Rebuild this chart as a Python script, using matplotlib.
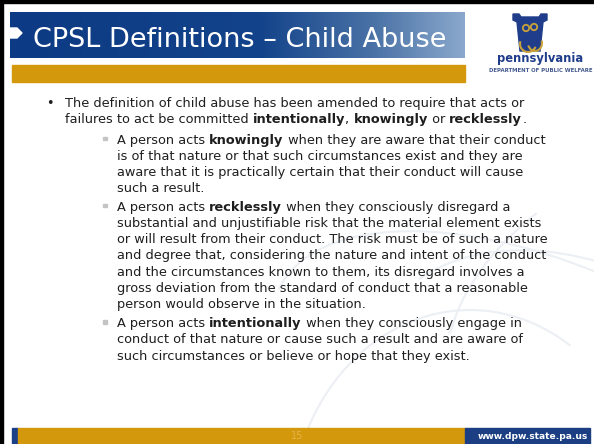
import numpy as np
import matplotlib
matplotlib.use("Agg")
import matplotlib.pyplot as plt
from matplotlib.colors import LinearSegmentedColormap
from matplotlib.patches import Rectangle, Polygon, Arc, Circle

# slide content
title = "CPSL Definitions \u2013 Child Abuse"
logo_name = "pennsylvania"
logo_sub = "DEPARTMENT OF PUBLIC WELFARE"
footer_url = "www.dpw.state.pa.us"
page_no = "15"

# each line is a list of (text, bold) pieces
main_lines = [
    [("The definition of child abuse has been amended to require that acts or", False)],
    [("failures to act be committed ", False), ("intentionally", True), (", ", False),
     ("knowingly", True), (" or ", False), ("recklessly", True), (".", False)],
]
sub_items = [
    [[("A person acts ", False), ("knowingly", True), (" when they are aware that their conduct", False)],
     [("is of that nature or that such circumstances exist and they are", False)],
     [("aware that it is practically certain that their conduct will cause", False)],
     [("such a result.", False)]],
    [[("A person acts ", False), ("recklessly", True), (" when they consciously disregard a", False)],
     [("substantial and unjustifiable risk that the material element exists", False)],
     [("or will result from their conduct. The risk must be of such a nature", False)],
     [("and degree that, considering the nature and intent of the conduct", False)],
     [("and the circumstances known to them, its disregard involves a", False)],
     [("gross deviation from the standard of conduct that a reasonable", False)],
     [("person would observe in the situation.", False)]],
    [[("A person acts ", False), ("intentionally", True), (" when they consciously engage in", False)],
     [("conduct of that nature or cause such a result and are aware of", False)],
     [("such circumstances or believe or hope that they exist.", False)]],
]

W, H = 594, 444
fig = plt.figure(figsize=(W / 100, H / 100), dpi=100)
ax = fig.add_axes([0, 0, 1, 1])
ax.axis("off")

TXT = "#1e1e1e"
BODY = 9.3


def draw_line(x, y, pieces, size=BODY):
    # chain pieces one after another so bold words sit inline
    t = None
    for s, b in pieces:
        w = "bold" if b else "normal"
        if t is None:
            t = ax.text(x, y, s, fontsize=size, fontweight=w, color=TXT,
                        ha="left", va="baseline", zorder=5)
        else:
            t = ax.annotate(s, xy=(1, 0), xycoords=t, fontsize=size, fontweight=w,
                            color=TXT, ha="left", va="bottom", zorder=5)


# watermark swooshes
for (cx, cy, w, h, ang, t1, t2) in [(560, 420, 620, 300, 25, 180, 260),
                                     (600, 460, 520, 360, 35, 190, 265),
                                     (470, 520, 360, 420, 0, 200, 300),
                                     (640, 300, 420, 260, -30, 200, 250)]:
    ax.add_patch(Arc((cx, cy), w, h, angle=ang, theta1=t1, theta2=t2,
                     color="#eceff4", lw=1.5, zorder=1))

# black frame lines (top and left)
ax.add_patch(Rectangle((0, 0), W, 3, color="black", zorder=2))
ax.add_patch(Rectangle((0, 0), 3, H, color="black", zorder=2))

# title banner with gradient
cmap = LinearSegmentedColormap.from_list(
    "banner", [(0, "#0c3a84"), (0.55, "#13438a"), (0.8, "#4a72a6"), (1, "#8aa8cc")])
grad = np.linspace(0, 1, 256).reshape(1, -1)
ax.imshow(grad, extent=(10, 465, 58, 12), aspect="auto", cmap=cmap, zorder=2)
ax.add_patch(Polygon([(10, 28), (17, 28), (22, 33), (17, 38), (10, 38)],
                     closed=True, color="white", zorder=3))
ax.text(33, 47, title, fontsize=19.5, color="white", ha="left", va="baseline", zorder=4)

# gold bar below banner
ax.add_patch(Rectangle((12, 65), 453, 17, color="#d3980b", zorder=2))

# logo: keystone + text
key = [(513, 14), (519, 14), (521, 17), (539, 17), (541, 14), (547, 14),
       (547, 20), (543, 22), (540, 51), (520, 51), (517, 22), (513, 20)]
ax.add_patch(Polygon(key, closed=True, color="#1f3d8a", zorder=3))
ax.add_patch(Circle((526, 28), 3.2, fill=False, ec="#c9a23a", lw=1.3, zorder=4))
ax.add_patch(Circle((534, 27), 3.2, fill=False, ec="#c9a23a", lw=1.3, zorder=4))
ax.add_patch(Arc((528, 44), 16, 16, theta1=20, theta2=200, color="#c9a23a", lw=1.5, zorder=4))
ax.add_patch(Arc((535, 43), 14, 16, theta1=-20, theta2=160, color="#c9a23a", lw=1.5, zorder=4))
ax.text(540, 62, logo_name, fontsize=8.3, fontweight="bold", color="#1f3d8a",
        ha="center", va="baseline", zorder=4)
ax.text(541, 72, logo_sub, fontsize=3.9, fontweight="bold", color="#44598f",
        ha="center", va="baseline", zorder=4)

# body text
ax.text(46, 107, "\u2022", fontsize=BODY, color=TXT, ha="left", va="baseline", zorder=5)
main_y = [107, 122.5]
for y, pieces in zip(main_y, main_lines):
    draw_line(65, y, pieces)

sub_start = [143.5, 210.5, 327]
step = 16.3
for y0, item in zip(sub_start, sub_items):
    ax.add_patch(Rectangle((103, y0 - 7), 3.5, 3.5, color="#c4c4c4", zorder=5))
    for i, pieces in enumerate(item):
        draw_line(117, y0 + i * step, pieces)

# footer
ax.add_patch(Rectangle((12, 428), 6, 16, color="#1b4088", zorder=2))
ax.add_patch(Rectangle((18, 428), 447, 16, color="#d3980b", zorder=2))
ax.add_patch(Rectangle((465, 428), 125, 16, color="#1b3f82", zorder=2))
ax.text(297, 436, page_no, fontsize=7, color="#e3b44a", ha="center", va="center", zorder=4)
ax.text(533, 436, footer_url, fontsize=6.6, fontweight="bold", color="white",
        ha="center", va="center", zorder=4)

ax.set_xlim(0, W)
ax.set_ylim(H, 0)
fig.savefig("out.png", dpi=100, facecolor="white")
